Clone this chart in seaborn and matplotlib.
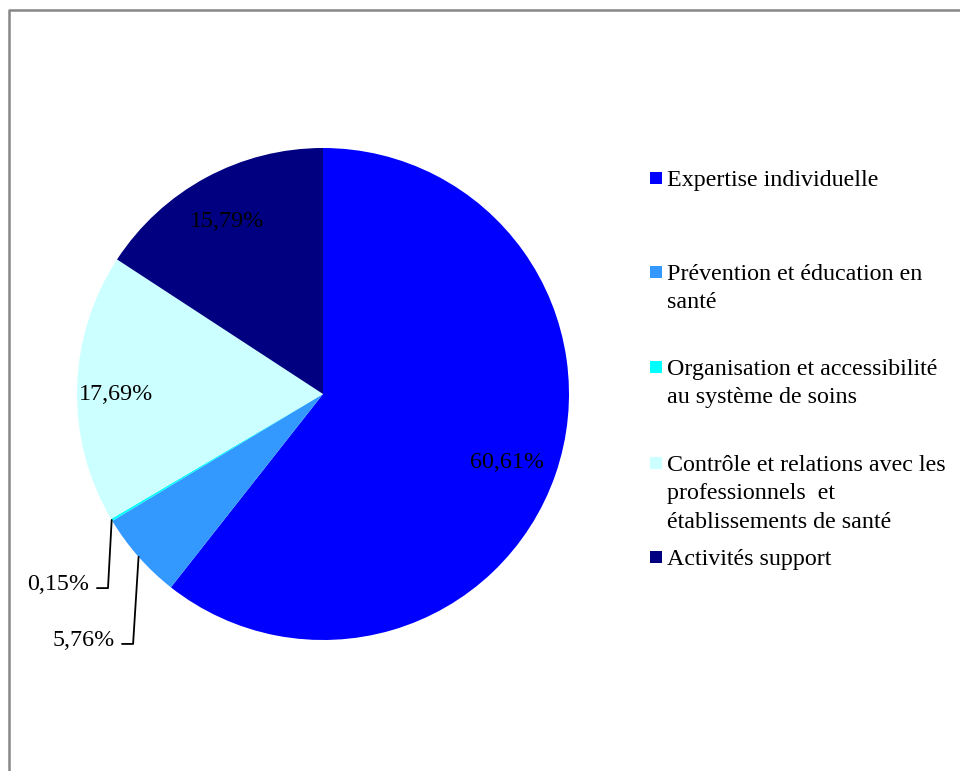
import numpy as np
import matplotlib
matplotlib.use("Agg")
import matplotlib.pyplot as plt
import seaborn as sns
from matplotlib.lines import Line2D
from matplotlib.patches import Rectangle

categories = [
    "Expertise individuelle",
    "Prévention et éducation en\nsanté",
    "Organisation et accessibilité\nau système de soins",
    "Contrôle et relations avec les\nprofessionnels  et\nétablissements de santé",
    "Activités support",
]
shares = [60.61, 5.76, 0.15, 17.69, 15.79]
colors = ["#0000FF", "#3399FF", "#00FFFF", "#CCFFFF", "#000080"]

sns.set_theme(style="white")
plt.rcParams["font.family"] = ["Liberation Serif", "DejaVu Serif"]
FS = 17.3

W, H = 960, 771
fig = plt.figure(figsize=(W / 100, H / 100), dpi=100)
fig.patch.set_facecolor("white")

# pie centre and radius in pixels; data unit = one radius
cx, cy, R = 323, 394, 246
ax = fig.add_axes([0, 0, 1, 1])
wedges, _ = ax.pie(shares, colors=colors, startangle=90, counterclock=False,
                   radius=1.0, wedgeprops=dict(linewidth=0))
ax.set_xlim(-cx / R, (W - cx) / R)
ax.set_ylim((cy - H) / R, cy / R)
ax.set_aspect("equal")
ax.axis("off")


def fmt(v):
    return f"{v:.2f}%".replace(".", ",")


def mid_dir(w):
    a = np.deg2rad((w.theta1 + w.theta2) / 2)
    return np.cos(a), np.sin(a)


# labels inside the larger slices
inside = {0: 0.79, 3: 0.84, 4: 0.82}
for i, d in inside.items():
    ux, uy = mid_dir(wedges[i])
    ax.text(ux * d, uy * d - 0.02, fmt(shares[i]), ha="center", va="center",
            fontsize=FS, color="black")

# leader lines for the thin slices: elbow point, end of the horizontal tick
leaders = {2: ((-0.874, -0.789), -0.919), 1: ((-0.772, -1.016), -0.817)}
for i, ((ex, ey), hx) in leaders.items():
    ux, uy = mid_dir(wedges[i])
    ax.add_line(Line2D([ux, ex, hx], [uy, ey, ey], color="black", lw=1.3))
    ax.text(hx - 0.03, ey + 0.015, fmt(shares[i]), ha="right", va="center",
            fontsize=FS, color="black")

# legend drawn as swatches and wrapped text
legend_y = [178, 272, 367, 463, 557]
for lab, col, py in zip(categories, colors, legend_y):
    fig.patches.append(Rectangle(((650) / W, 1 - (py + 6) / H), 12 / W, 12 / H,
                                 transform=fig.transFigure, facecolor=col,
                                 edgecolor="none"))
    fig.text(667 / W, 1 - (py - 8) / H, lab, ha="left", va="top",
             fontsize=FS, color="black", linespacing=1.46)

# chart area border (left and top edges)
fig.add_artist(Line2D([8.5 / W, 8.5 / W, 1.0], [0.0, 1 - 10 / H, 1 - 10 / H],
                      transform=fig.transFigure, color="#878787", lw=1.8))

fig.savefig("out.png", dpi=100, facecolor="white")
